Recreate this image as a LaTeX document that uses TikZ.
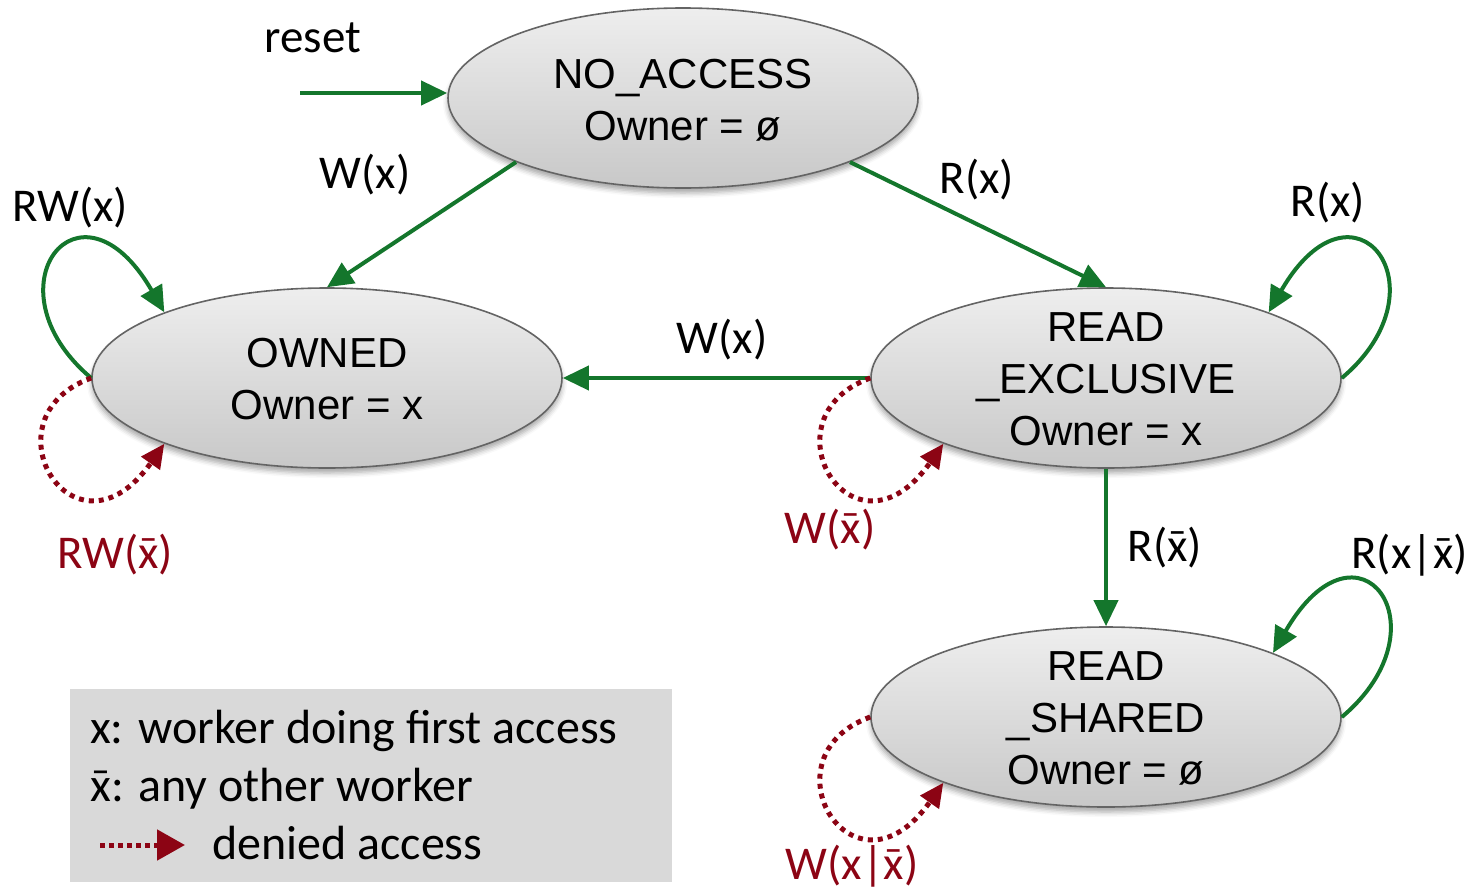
\documentclass[tikz,border=0pt]{standalone}
\usepackage{fontspec}
\setmainfont{Liberation Sans}
\newfontfamily\lblfont{Carlito}
\usetikzlibrary{shapes.geometric,arrows.meta,shadows.blur}

% x with a bar: any worker other than x
\newcommand\xo{\accent"00AF x}

\definecolor{stgreen}{RGB}{20,118,44}
\definecolor{stred}{RGB}{140,4,20}
\definecolor{sttop}{RGB}{238,238,238}
\definecolor{stbot}{RGB}{200,200,200}
\definecolor{stedge}{RGB}{100,100,100}
\definecolor{legendbg}{RGB}{217,217,217}

\begin{document}
\begin{tikzpicture}[x=1pt,y=-1pt,
  state/.style={ellipse, minimum width=470pt, minimum height=180pt, inner sep=0pt,
    draw=stedge, line width=1.6pt, top color=sttop, bottom color=stbot,
    blur shadow={shadow xshift=0pt, shadow yshift=-5pt, shadow blur radius=5pt, shadow opacity=35}},
  statetext/.style={font=\fontsize{42}{52}\selectfont, align=center, inner sep=0pt},
  go/.style={draw=stgreen, line width=4pt, -{Triangle[length=26pt,width=24pt]}},
  deny/.style={draw=stred, line width=5pt, dash pattern=on 5pt off 5pt,
    -{Triangle[length=24pt,width=22pt]}},
  lbl/.style={font=\lblfont\fontsize{47}{56}\selectfont, inner sep=0pt},
  dlbl/.style={lbl, text=stred},
  keytext/.style={font=\lblfont\fontsize{48}{56}\selectfont, inner sep=0pt, anchor=base west},
]
\useasboundingbox (0,0) rectangle (1471,889);

% states
\node[state] (na)  at (683,98)   {};
\node[state] (own) at (327,378)  {};
\node[state] (rex) at (1106,378) {};
\node[state] (rs)  at (1106,717) {};

\node[statetext] (naT)  at (683,100)  {NO\_ACCESS\\Owner = ø};
\node[statetext] (ownT) at (327,379)  {OWNED\\Owner = x};
\node[statetext] (rexT) at (1106,379) {READ\\\_EXCLUSIVE\\Owner = x};
\node[statetext] (rsT)  at (1106,718) {READ\\\_SHARED\\Owner = ø};

% initial transition
\coordinate (rst) at (300,93);
\draw[go] (rst) -- (na.west |- rst);
\node[lbl] (rstL) at (313,38) {reset};

% transitions between states
\draw[go] (na.201) -- (own.north);
\draw[go] (na.339) -- (rex.north);
\draw[go] (rex.west) -- (own.east);
\draw[go] (rex.south) -- (rs.north);

% self loops
\draw[go]   (own.180) .. controls +(-107,-90) and +(-85,-147) .. (own.158);
\draw[deny] (own.180) .. controls +(-110,40) and +(-90,128) .. (own.202);
\draw[go]   (rex.0) .. controls +(107,-90) and +(85,-147) .. (rex.22);
\draw[deny] (rex.180) .. controls +(-110,40) and +(-90,128) .. (rex.202);
\draw[go]   (rs.0) .. controls +(107,-90) and +(85,-147) .. (rs.21);
\draw[deny] (rs.180) .. controls +(-110,40) and +(-90,128) .. (rs.202);

% transition labels
\node[lbl] (l1) at (365,175) {W(x)};
\node[lbl] (l2) at (977,180) {R(x)};
\node[lbl] (l3) at (722,340) {W(x)};
\node[lbl] (l4) at (1165,548) {R(\xo)};
\node[lbl] (l5) at (70,208) {RW(x)};
\node[lbl] (l6) at (1328,203) {R(x)};
\node[lbl, anchor=east] (l7) at (1468,555) {R(x|\xo)};
\node[dlbl] (l8) at (115,555) {RW(\xo)};
\node[dlbl] (l9) at (830,530) {W(\xo)};
\node[dlbl] (l10) at (852,866) {W(x|\xo)};

% legend
\node[fill=legendbg, minimum width=602pt, minimum height=193pt, inner sep=0pt,
  anchor=north west] (leg) at (70,689) {};
\node[keytext] (k1) at (90,743) {x: worker doing first access};
\node[keytext] (k2) at (90,801) {\xo: any other worker};
\node[keytext] (k3) at (212,859) {denied access};
\coordinate (ka) at (100,845);
\coordinate (kb) at (185,845);
\draw[draw=stred, line width=5pt, dash pattern=on 5pt off 4pt,
  -{Triangle[length=28pt,width=30pt]}] (ka) -- (kb);
\end{tikzpicture}
\end{document}
